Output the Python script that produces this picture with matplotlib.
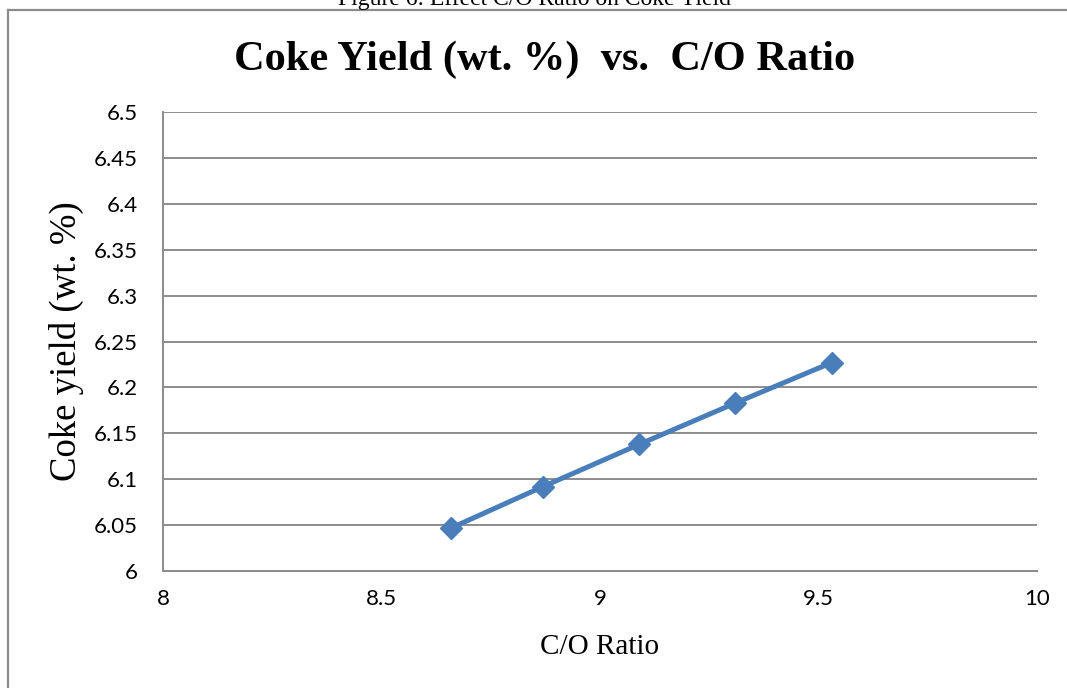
import matplotlib
matplotlib.use("Agg")
import matplotlib.pyplot as plt
from matplotlib.lines import Line2D

# Catalytic cracking results: coke yield against catalyst-to-oil ratio
co_ratio = [8.66, 8.87, 9.09, 9.31, 9.53]
coke_yield = [6.047, 6.092, 6.138, 6.183, 6.227]

x_ticks = [8, 8.5, 9, 9.5, 10]
x_tick_labels = ["8", "8.5", "9", "9.5", "10"]
y_ticks = [6, 6.05, 6.1, 6.15, 6.2, 6.25, 6.3, 6.35, 6.4, 6.45, 6.5]
y_tick_labels = ["6", "6.05", "6.1", "6.15", "6.2", "6.25", "6.3", "6.35", "6.4", "6.45", "6.5"]

serif = ["Liberation Serif", "DejaVu Serif"]
sans = ["Lato", "DejaVu Sans"]
grey = "#8c8c8c"
blue = "#4a7ebb"

fig = plt.figure(figsize=(10.67, 6.88), dpi=100)
fig.patch.set_facecolor("white")

ax = fig.add_axes([163 / 1067, 1 - 571 / 688, (1037 - 163) / 1067, (571 - 112) / 688])

ax.plot(co_ratio, coke_yield, color=blue, linewidth=3.6, marker="D",
        markersize=11.5, markerfacecolor=blue, markeredgecolor=blue, zorder=3)

ax.set_xlim(8, 10)
ax.set_ylim(6, 6.5)
ax.set_xticks(x_ticks)
ax.set_xticklabels(x_tick_labels, family=sans, fontsize=16)
ax.set_yticks(y_ticks)
ax.set_yticklabels(y_tick_labels, family=sans, fontsize=16)
ax.tick_params(axis="both", length=0)
ax.tick_params(axis="y", pad=18)
ax.tick_params(axis="x", pad=13)

ax.grid(axis="y", color=grey, linewidth=1.4)
ax.set_axisbelow(True)
for side in ("top", "right"):
    ax.spines[side].set_visible(False)
for side in ("left", "bottom"):
    ax.spines[side].set_color(grey)
    ax.spines[side].set_linewidth(1.4)

ax.set_xlabel("C/O Ratio", family=serif, fontsize=21)
ax.xaxis.label.set_va("center")
ax.xaxis.set_label_coords(0.5, -0.165)

ax.set_ylabel("Coke yield (wt. %)", family=serif, fontsize=26.5)
ax.yaxis.label.set(va="center", rotation_mode="default")
ax.yaxis.set_label_coords(-0.111, 0.5)

fig.text(545 / 1067, 1 - 60 / 688, "Coke Yield (wt. %)  vs.  C/O Ratio",
         family=serif, fontweight="bold", fontsize=30.5, ha="center", va="center")

# Caption of the figure sitting above the frame, partly outside the page
fig.text(535 / 1067, 1 - 5 / 688, "Figure 6: Effect C/O Ratio on Coke Yield",
         family=serif, fontsize=17, ha="center", va="baseline")

# Chart frame
fig.add_artist(Line2D([7.5 / 1067, 7.5 / 1067], [1 - 10 / 688, 0],
                      transform=fig.transFigure, color=grey, linewidth=1.6))
fig.add_artist(Line2D([7.5 / 1067, 1], [1 - 10 / 688, 1 - 10 / 688],
                      transform=fig.transFigure, color=grey, linewidth=1.6))

fig.savefig("out.png", dpi=100, facecolor="white")
